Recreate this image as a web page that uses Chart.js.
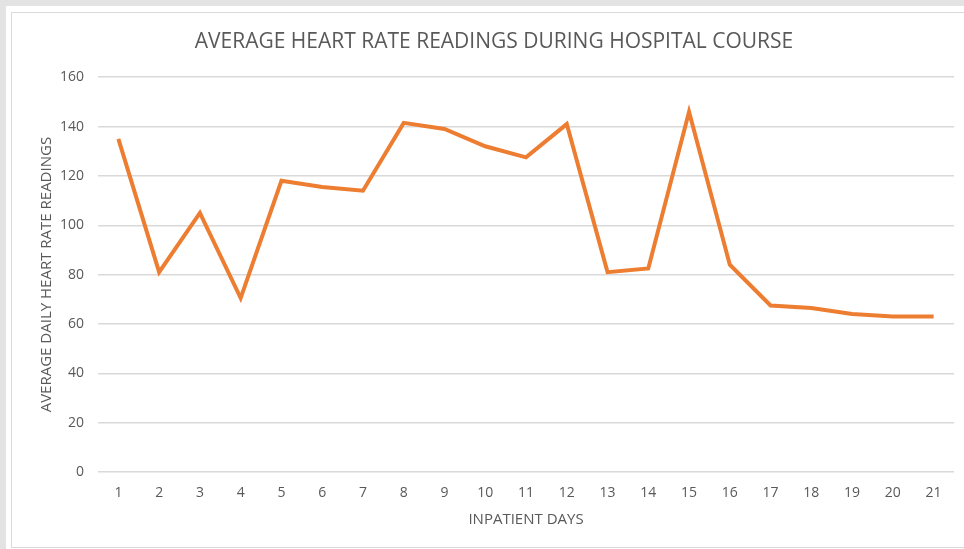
<!DOCTYPE html>
<html>
<head>
<meta charset="utf-8">
<script src="https://cdn.jsdelivr.net/npm/chart.js@4"></script>
<style>
  html, body { margin: 0; padding: 0; background: #e3e3e3; overflow: hidden; }
  #sheet { position: absolute; left: 6px; top: 6px; width: 970px; height: 548px; background: #fff; }
  #frame { position: absolute; left: 11px; top: 12px; width: 970px; height: 534px; border: 1.5px solid #d9d9d9; background: #fff; }
  #wrap { position: absolute; left: 12px; top: 13px; width: 952px; height: 534px; }
</style>
</head>
<body>
<div id="sheet"></div>
<div id="frame"></div>
<div id="wrap"><canvas id="chart1"></canvas></div>
<script>
const days = ['1','2','3','4','5','6','7','8','9','10','11','12','13','14','15','16','17','18','19','20','21'];
const heartRate = [135, 81, 105, 70.5, 118, 115.5, 114, 141.5, 139, 132, 127.5, 141, 81, 82.5, 146, 84, 67.5, 66.5, 64, 63, 63];
const yTicks = [0, 20, 40, 60, 80, 100, 120, 140, 160];

const grey = '#595959';
const font = "'Open Sans', 'Liberation Sans', sans-serif";

function createChart(id) {
  return new Chart(id, {
    type: 'line',
    data: {
      labels: days,
      datasets: [{
        label: 'Average heart rate',
        data: heartRate,
        borderColor: '#ED7D31',
        borderWidth: 4,
        pointRadius: 0,
        tension: 0,
        fill: false
      }]
    },
    options: {
      responsive: true,
      maintainAspectRatio: false,
      animation: false,
      layout: { padding: { left: 22, right: 10, top: 12, bottom: 14 } },
      plugins: {
        legend: { display: false },
        tooltip: { enabled: false },
        title: {
          display: true,
          text: 'AVERAGE HEART RATE READINGS DURING HOSPITAL COURSE',
          color: grey,
          font: { family: font, size: 21, weight: 'normal' },
          padding: { top: 4, bottom: 23 }
        }
      },
      scales: {
        x: {
          offset: true,
          afterFit: axis => { axis.height = 61; },
          grid: { display: false, drawTicks: false },
          border: { display: false },
          ticks: { color: grey, font: { family: font, size: 14 }, padding: 13, maxRotation: 0 },
          title: {
            display: true,
            text: 'INPATIENT DAYS',
            color: grey,
            font: { family: font, size: 15 },
            padding: { top: 10, bottom: 4 }
          }
        },
        y: {
          min: 0,
          max: 160,
          afterBuildTicks: axis => { axis.ticks = yTicks.map(v => ({ value: v })); },
          afterFit: axis => { axis.width = 64; },
          grid: { color: '#d9d9d9', lineWidth: 1.5, drawTicks: false },
          border: { display: false },
          ticks: { color: grey, font: { family: font, size: 14 }, padding: 14 },
          title: {
            display: true,
            text: 'AVERAGE DAILY HEART RATE READINGS',
            color: grey,
            font: { family: font, size: 15 },
            padding: { top: 4, bottom: 4 }
          }
        }
      }
    }
  });
}

createChart('chart1');
</script>
</body>
</html>
